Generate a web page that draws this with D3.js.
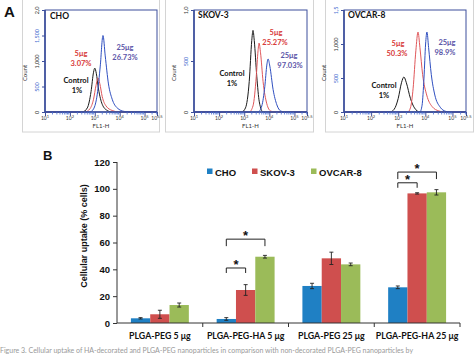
<!DOCTYPE html>
<html><head><meta charset="utf-8">
<script src="https://cdn.jsdelivr.net/npm/d3@7"></script>
<style>
html,body{margin:0;padding:0;background:#fff;overflow:hidden}
svg{display:block}
</style></head>
<body>
<svg id="chart" width="474" height="356"></svg>
<script>
// ---------- Panel A data (flow cytometry histograms) ----------
const flowPanels = ["CHO", "SKOV-3", "OVCAR-8"];
const flowYMax = [2000, 1000, 1500];
const flowYTicks = [[0, 500, 1000, 1500, 2000], [0, 500, 1000], [0, 500, 1000, 1500]];
const flowYTickLabels = [["0", "500", "1,000", "1,500", "2,0"], ["0", "500", "1,0"], ["0", "500", "1,000", "1,5"]];
const flowXTicks = [1, 2, 3, 4, 5, 5.5];
const flowXTickLabels = ["1", "2", "3", "4", "5", "5.5"];
const flowXLabel = "FL1-H";
const flowYLabel = "Count";
const controlLabel = "Control";
const controlPct = ["1%", "1%", "1%"];
const lowDoseLabel = "5μg";
const lowDosePct = ["3.07%", "25.27%", "50.3%"];
const highDoseLabel = "25μg";
const highDosePct = ["26.73%", "97.03%", "98.9%"];
// [log10(FL1-H), count]
const choControl = [[1,0],[2.5,0],[2.7,80],[2.85,400],[2.95,780],[3.0,860],[3.06,760],[3.15,450],[3.3,150],[3.5,30],[3.7,0],[5.5,0]];
const choLow = [[1,0],[2.6,0],[2.8,60],[2.95,250],[3.05,520],[3.13,670],[3.2,560],[3.3,300],[3.45,120],[3.7,30],[4.0,0],[5.5,0]];
const choHigh = [[1,0],[2.8,0],[2.95,60],[3.1,350],[3.22,900],[3.33,1500],[3.42,1100],[3.55,550],[3.7,250],[3.9,80],[4.2,10],[4.5,0],[5.5,0]];
const skovControl = [[1,0],[2.9,0],[3.05,40],[3.2,300],[3.3,700],[3.35,800],[3.4,700],[3.5,350],[3.6,100],[3.75,0],[5.5,0]];
const skovLow = [[1,0],[3.2,0],[3.35,60],[3.48,350],[3.55,600],[3.59,676],[3.65,580],[3.75,300],[3.9,80],[4.05,10],[4.2,0],[5.5,0]];
const skovHigh = [[1,0],[3.55,0],[3.7,60],[3.82,250],[3.9,460],[3.95,520],[4.02,450],[4.15,220],[4.3,70],[4.45,10],[4.6,0],[5.5,0]];
const ovcarControl = [[1,0],[2.7,0],[2.85,40],[3.0,200],[3.12,430],[3.21,515],[3.3,430],[3.45,200],[3.6,60],[3.8,0],[5.5,0]];
const ovcarLow = [[1,0],[3.35,0],[3.45,60],[3.55,350],[3.65,900],[3.73,1176],[3.8,950],[3.9,550],[4.05,250],[4.25,80],[4.5,15],[4.7,0],[5.5,0]];
const ovcarHigh = [[1,0],[3.8,0],[3.88,100],[3.95,500],[4.01,1000],[4.06,1176],[4.12,950],[4.22,550],[4.35,250],[4.55,70],[4.75,10],[4.9,0],[5.5,0]];
const flowCurves = [[choControl, choLow, choHigh], [skovControl, skovLow, skovHigh], [ovcarControl, ovcarLow, ovcarHigh]];

// ---------- Panel B data (bar chart) ----------
const categories = ["PLGA-PEG 5 μg", "PLGA-PEG-HA 5 μg", "PLGA-PEG 25 μg", "PLGA-PEG-HA 25 μg"];
const seriesNames = ["CHO", "SKOV-3", "OVCAR-8"];
const choValues = [3.5, 3.0, 27.6, 26.6];
const choErrors = [0.5, 1.0, 2.0, 1.0];
const skovValues = [6.5, 24.6, 48.2, 96.6];
const skovErrors = [3.0, 4.0, 4.6, 0.5];
const ovcarValues = [13.4, 49.4, 43.7, 97.4];
const ovcarErrors = [1.5, 1.0, 1.0, 2.0];
const yTicks = [0, 20, 40, 60, 80, 100, 120];
const yLabel = "Cellular uptake (% cells)";
// significance brackets: category index, from series, to series, level (% value)
const sigCategory = [1, 1, 3, 3];
const sigFrom = [0, 0, 0, 0];
const sigTo = [1, 2, 1, 2];
const sigLevel = [41, 62.5, 104.5, 112.5];
const captionText = "Figure 3. Cellular uptake of HA-decorated and PLGA-PEG nanoparticles in comparison with non-decorated PLGA-PEG nanoparticles by";

const svg = d3.select("#chart");
const navy = "#3d4f9c";

// ---------- Panel A drawing ----------
svg.append("text").attr("x", 4).attr("y", 17).text("A")
  .attr("font-family", "Liberation Sans, Arial, sans-serif").attr("font-weight", "bold").attr("font-size", 15).attr("fill", "#111");

const panelLayout = [
  {fx0: 22, fx1: 160, px0: 45, px1: 157,
   pos: {name: [50, 19], low: [81, 56], lowP: [81, 66], high: [125, 50], highP: [125, 60], ctl: [76, 83], ctlP: [77, 93]}},
  {fx0: 165, fx1: 314, px0: 194, px1: 307,
   pos: {name: [198, 18], low: [276, 35], lowP: [275, 45], high: [289, 58], highP: [290, 68], ctl: [232, 76], ctlP: [232, 86]}},
  {fx0: 325, fx1: 474, px0: 344, px1: 466,
   pos: {name: [348, 18], low: [398, 46], lowP: [397, 56], high: [447, 45], highP: [445, 55], ctl: [384, 88], ctlP: [384, 98]}}
];
const py0 = 10, py1 = 112;
const curveColors = ["#1a1a1a", "#e0575a", "#2f4fc0"];
const fontA = "Lato, 'Open Sans', sans-serif";

flowPanels.forEach((name, i) => {
  const L = panelLayout[i];
  const g = svg.append("g");
  g.append("rect").attr("x", L.fx0 + 0.5).attr("y", -2).attr("width", L.fx1 - L.fx0 - 1).attr("height", 134)
    .attr("fill", "#fff").attr("stroke", "#d4d4d4").attr("stroke-width", 1);
  const x = d3.scaleLinear().domain([1, 5.5]).range([L.px0, L.px1]);
  const y = d3.scaleLinear().domain([0, flowYMax[i]]).range([py1, py0]);

  const line = d3.line().x(d => x(d[0])).y(d => y(d[1])).curve(d3.curveMonotoneX);
  flowCurves[i].forEach((c, k) => {
    g.append("path").attr("d", line(c)).attr("fill", "none").attr("stroke", curveColors[k]).attr("stroke-width", 1);
  });

  g.append("rect").attr("x", L.px0).attr("y", py0).attr("width", L.px1 - L.px0).attr("height", py1 - py0)
    .attr("fill", "none").attr("stroke", navy).attr("stroke-width", 1);
  g.append("line").attr("x1", L.px0).attr("x2", L.px0).attr("y1", py0).attr("y2", py1).attr("stroke", navy).attr("stroke-width", 1.6);
  g.append("line").attr("x1", L.px0).attr("x2", L.px1).attr("y1", py1).attr("y2", py1).attr("stroke", navy).attr("stroke-width", 1.6);

  const ya = d3.axisLeft(y).tickValues(flowYTicks[i]).tickSize(3).tickFormat((d, j) => flowYTickLabels[i][j]);
  const yg = g.append("g").attr("transform", `translate(${L.px0},0)`).call(ya);
  yg.select(".domain").remove();
  yg.selectAll("line").attr("stroke", navy);
  yg.selectAll(".tick text").attr("font-size", 5.5).attr("font-family", fontA)
    .attr("fill", (d, j) => j % 2 ? "#4a6fd0" : "#333")
    .attr("x", null).attr("dy", null).attr("text-anchor", "middle")
    .attr("transform", "translate(-6,0) rotate(-90)");
  g.append("text").attr("transform", `translate(${L.px0 - 18},${(py0 + py1) / 2 + 12}) rotate(-90)`)
    .attr("text-anchor", "middle").attr("font-size", 6).attr("font-family", fontA).attr("fill", "#333").text(flowYLabel);

  const minor = [];
  for (let dcd = 1; dcd <= 5; dcd++) for (let m = 2; m <= 9; m++) {
    const v = dcd + Math.log10(m);
    if (v <= 5.5) minor.push(v);
  }
  g.selectAll(".mt").data(minor).enter().append("line")
    .attr("x1", d => x(d)).attr("x2", d => x(d)).attr("y1", py1).attr("y2", py1 + 2.5)
    .attr("stroke", "#4a6fd0").attr("stroke-width", 0.8);
  const xa = d3.axisBottom(x).tickValues(flowXTicks).tickSize(4).tickFormat("");
  const xg = g.append("g").attr("transform", `translate(0,${py1})`).call(xa);
  xg.select(".domain").remove();
  xg.selectAll("line").attr("stroke", navy);
  flowXTicks.forEach((t, j) => {
    const tx = g.append("text").attr("x", x(t)).attr("y", py1 + 7.5).attr("text-anchor", "middle")
      .attr("font-family", fontA).attr("font-size", 5).attr("fill", "#333");
    tx.append("tspan").text("10");
    tx.append("tspan").attr("dy", -2).attr("font-size", 4).text(flowXTickLabels[j]);
  });
  g.append("text").attr("x", (L.px0 + L.px1) / 2).attr("y", py1 + 16).attr("text-anchor", "middle")
    .attr("font-family", fontA).attr("font-size", 6).attr("fill", "#333").text(flowXLabel);

  const P = L.pos;
  g.append("text").attr("x", P.name[0]).attr("y", P.name[1]).text(name)
    .attr("font-family", fontA).attr("font-weight", "bold").attr("font-size", 8.5).attr("fill", "#111");
  const lab = (p, txt, col) => g.append("text").attr("x", p[0]).attr("y", p[1]).attr("text-anchor", "middle")
    .attr("font-family", fontA).attr("font-weight", "bold").attr("font-size", 7.5).attr("fill", col).text(txt);
  lab(P.low, lowDoseLabel, "#d83a3a");
  lab(P.lowP, lowDosePct[i], "#d83a3a");
  lab(P.high, highDoseLabel, "#5c55a8");
  lab(P.highP, highDosePct[i], "#5c55a8");
  lab(P.ctl, controlLabel, "#111");
  lab(P.ctlP, controlPct[i], "#111");
});

// ---------- Panel B drawing ----------
const fontB = "Liberation Sans, Arial, sans-serif";
svg.append("text").attr("x", 43).attr("y", 160).text("B")
  .attr("font-family", fontB).attr("font-weight", "bold").attr("font-size", 13).attr("fill", "#111");

const barColors = ["#1f80c4", "#cf4f4e", "#9bbb59"];
const valueSets = [choValues, skovValues, ovcarValues];
const errorSets = [choErrors, skovErrors, ovcarErrors];

const x0 = d3.scaleBand().domain(categories).range([117, 460]).padding(0);
const x1 = d3.scaleBand().domain(seriesNames).range([0, x0.bandwidth()]).paddingInner(0).paddingOuter(0.72);
const yB = d3.scaleLinear().domain([0, 120]).range([323, 162]);

const bars = [];
categories.forEach((c, ci) => seriesNames.forEach((s, si) => bars.push({c, s, si, v: valueSets[si][ci], e: errorSets[si][ci]})));

const gb = svg.append("g");
gb.selectAll("rect.bar").data(bars).enter().append("rect")
  .attr("x", d => x0(d.c) + x1(d.s)).attr("width", x1.bandwidth())
  .attr("y", d => yB(d.v)).attr("height", d => yB(0) - yB(d.v))
  .attr("fill", d => barColors[d.si]);

const cx = d => x0(d.c) + x1(d.s) + x1.bandwidth() / 2;
const eb = gb.selectAll("g.err").data(bars).enter().append("g");
eb.append("line").attr("x1", cx).attr("x2", cx)
  .attr("y1", d => yB(d.v + d.e)).attr("y2", d => yB(d.v - d.e)).attr("stroke", "#222").attr("stroke-width", 0.9);
[1, -1].forEach(sg => {
  eb.append("line").attr("x1", d => cx(d) - 2).attr("x2", d => cx(d) + 2)
    .attr("y1", d => yB(d.v + sg * d.e)).attr("y2", d => yB(d.v + sg * d.e))
    .attr("stroke", "#222").attr("stroke-width", 0.9);
});

const yAxis = d3.axisLeft(yB).tickValues(yTicks).tickSize(4).tickPadding(3);
const yAg = svg.append("g").attr("transform", "translate(117,0)").call(yAxis);
yAg.select(".domain").attr("stroke", "#333").attr("d", "M0,162V323");
yAg.selectAll("line").attr("stroke", "#333");
yAg.selectAll("text").attr("font-family", fontB).attr("font-weight", "bold").attr("font-size", 9.5).attr("fill", "#111");

svg.append("line").attr("x1", 117).attr("x2", 460).attr("y1", 323).attr("y2", 323).attr("stroke", "#333");
svg.selectAll("line.xt").data(categories).enter().append("line")
  .attr("x1", d => x0(d) + x0.bandwidth()).attr("x2", d => x0(d) + x0.bandwidth())
  .attr("y1", 323).attr("y2", 327).attr("stroke", "#333");
svg.selectAll("text.cat").data(categories).enter().append("text")
  .attr("x", d => x0(d) + x0.bandwidth() / 2).attr("y", 339).attr("text-anchor", "middle")
  .attr("font-family", "Lato, sans-serif").attr("font-weight", "bold").attr("font-size", 8.8).attr("fill", "#111")
  .text(d => d);

svg.append("text").attr("transform", "translate(87,236) rotate(-90)").attr("text-anchor", "middle")
  .attr("font-family", fontB).attr("font-weight", "bold").attr("font-size", 9).attr("fill", "#111").text(yLabel);

const legX = [207, 252, 311];
seriesNames.forEach((s, i) => {
  svg.append("rect").attr("x", legX[i]).attr("y", 168.5).attr("width", 5.5).attr("height", 5.5).attr("fill", barColors[i]);
  svg.append("text").attr("x", legX[i] + 8).attr("y", 176).text(s)
    .attr("font-family", fontB).attr("font-weight", "bold").attr("font-size", 9.5).attr("fill", "#111");
});

sigCategory.forEach((ci, k) => {
  const c = categories[ci];
  const xa = x0(c) + x1(seriesNames[sigFrom[k]]) + x1.bandwidth() / 2;
  const xb = x0(c) + x1(seriesNames[sigTo[k]]) + x1.bandwidth() / 2;
  const yl = yB(sigLevel[k]);
  const drop = k % 2 ? 7 : 5;
  svg.append("path").attr("d", `M${xa},${yl + drop}V${yl}H${xb}V${yl + drop}`)
    .attr("fill", "none").attr("stroke", "#222").attr("stroke-width", 1);
  svg.append("text").attr("x", (xa + xb) / 2).attr("y", yl + 1).attr("text-anchor", "middle")
    .attr("font-family", fontB).attr("font-weight", "bold").attr("font-size", 13).attr("fill", "#111").text("*");
});

svg.append("text").attr("x", 0).attr("y", 353).text(captionText)
  .attr("font-family", "Lato, sans-serif").attr("font-size", 7).attr("fill", "#999");
</script>
</body></html>
